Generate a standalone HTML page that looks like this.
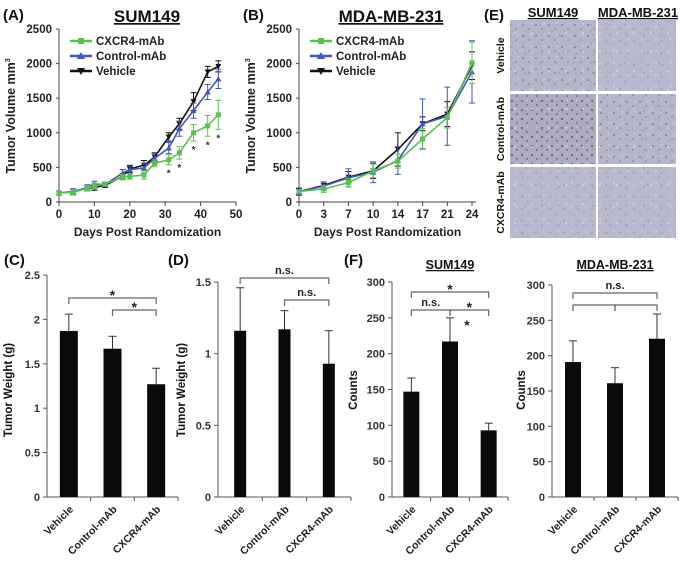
<!DOCTYPE html>
<html><head><meta charset="utf-8"><style>
body{margin:0;background:#fff}
svg{display:block;font-family:"Liberation Sans",Arial,sans-serif}
</style></head><body>
<svg id="fig" width="680" height="562" viewBox="0 0 680 562" xmlns="http://www.w3.org/2000/svg">
<defs>
<pattern id="tissue1" width="13" height="11" patternUnits="userSpaceOnUse">
<rect width="13" height="11" fill="#b4b6cc"/>
<circle cx="3" cy="3" r="0.9" fill="#8a6a62"/><circle cx="9" cy="7" r="0.8" fill="#957064"/>
<circle cx="6" cy="9" r="0.8" fill="#a0a4c6"/><circle cx="11" cy="2" r="0.9" fill="#cfd0dc"/>
</pattern>
<pattern id="tissue2" width="14" height="12" patternUnits="userSpaceOnUse">
<rect width="14" height="12" fill="#b8b9cf"/>
<circle cx="4" cy="5" r="0.7" fill="#a0807a"/><circle cx="10" cy="9" r="0.9" fill="#a4a7c8"/>
<circle cx="12" cy="3" r="0.9" fill="#d2d3de"/>
</pattern>
<pattern id="tissue3" width="10" height="9" patternUnits="userSpaceOnUse">
<rect width="10" height="9" fill="#acabc4"/>
<circle cx="2" cy="2" r="1" fill="#7a4f44"/><circle cx="7" cy="6" r="0.9" fill="#85584a"/>
<circle cx="7" cy="1" r="0.8" fill="#c8c8d8"/>
</pattern>
<pattern id="noise" width="17" height="19" patternUnits="userSpaceOnUse">
<rect width="17" height="19" fill="none"/>
<circle cx="5" cy="14" r="1.1" fill="#d6d6e2" opacity="0.7"/><circle cx="13" cy="6" r="1" fill="#9598bd" opacity="0.6"/>
<circle cx="15" cy="16" r="0.8" fill="#8b6660" opacity="0.5"/>
</pattern>
</defs>
</svg>
<script>
// ---------- Panel A data ----------
const daysA = [0,4,8,10,13,18,20,24,27,31,34,38,42,45];
const vehA = [130,150,200,210,240,370,480,530,650,940,1130,1450,1880,1960];
const vehAerr = [30,40,40,40,30,40,50,70,60,60,80,130,80,80];
const ctlA = [130,150,210,260,250,420,470,490,630,780,1060,1320,1590,1780];
const ctlAerr = [30,40,40,40,30,50,50,70,70,80,110,110,110,140];
const cxA = [130,140,200,230,260,360,370,390,560,610,710,1000,1100,1260];
const cxAerr = [30,40,40,40,30,40,40,60,50,70,90,120,150,210];
const starDaysA = [31,34,38,42,45];
const yTicksA = [0,500,1000,1500,2000,2500];
const xTicksA = [0,10,20,30,40,50];
// ---------- Panel B data ----------
const daysB = ["0","3","7","10","14","17","21","24"];
const vehB = [150,240,360,450,760,1130,1270,1970];
const vehBerr = [50,50,80,110,240,100,180,200];
const ctlB = [150,230,350,430,600,1130,1240,1880];
const ctlBerr = [40,60,130,150,200,360,420,450];
const cxB = [150,190,280,450,590,910,1220,2010];
const cxBerr = [30,50,60,100,100,150,150,300];
// ---------- Bar panels ----------
const groups = ["Vehicle","Control-mAb","CXCR4-mAb"];
const weightC = [1.87,1.67,1.27];
const weightCerr = [0.19,0.14,0.18];
const yTicksC = ["0","0.5","1","1.5","2","2.5"];
const weightD = [1.16,1.17,0.93];
const weightDerr = [0.30,0.13,0.23];
const yTicksD = ["0","0.5","1","1.5"];
const countsF1 = [147,217,93];
const countsF1err = [19,33,10];
const countsF2 = [191,161,224];
const countsF2err = [30,22,35];
const yTicksF = [0,50,100,150,200,250,300];

const svg = document.getElementById('fig');
const NS = 'http://www.w3.org/2000/svg';
function el(tag, attrs, parent, text){
  const e = document.createElementNS(NS, tag);
  for (const k in attrs) e.setAttribute(k, attrs[k]);
  if (text !== undefined) e.textContent = text;
  (parent||svg).appendChild(e);
  return e;
}
function grp(name){
  const g = el('g', {});
  
  
  return g;
}
function txt(g, x, y, s, size, opts){
  opts = opts||{};
  const t = el('text', {x:x, y:y, 'font-size':size, 'font-weight':opts.w||'bold', fill:opts.fill||'#222', 'text-anchor':opts.anchor||'middle'}, g, s);
  if (opts.rot !== undefined) t.setAttribute('transform', `rotate(${opts.rot} ${x} ${y})`);
  if (opts.ul) t.setAttribute('text-decoration','underline');
  return t;
}

function linePanel(cfg){
  const g = grp(cfg.name);
  const x0 = cfg.x0, y0 = 202, yTop = 29;
  const ys = v => y0 - (v/2500)*(y0-yTop);
  el('line',{x1:x0,y1:yTop,x2:x0,y2:y0,stroke:'#444','stroke-width':1},g);
  el('line',{x1:x0,y1:y0,x2:cfg.xEnd,y2:y0,stroke:'#444','stroke-width':1},g);
  yTicksA.forEach(v=>{
    el('line',{x1:x0-3,y1:ys(v),x2:x0,y2:ys(v),stroke:'#444'},g);
    const t = txt(g, x0-7, ys(v)+4, String(v), 11.5, {anchor:'end'});
    
    
  });
  cfg.xTicks.forEach((lab,i)=>{
    const x = cfg.xt(i);
    el('line',{x1:x,y1:y0,x2:x,y2:y0+4,stroke:'#444'},g);
    const t = txt(g, x, y0+16, String(lab), 11.5);
    
    
  });
  const xl = txt(g, (x0+cfg.xEnd)/2, 236, 'Days Post Randomization', 12);
  
  
  const yl = el('text',{x:cfg.x0-44,y:116,'font-size':12.5,'font-weight':'bold',fill:'#222','text-anchor':'middle',transform:`rotate(-90 ${cfg.x0-44} 116)`},g);
  yl.textContent = 'Tumor Volume mm';
  el('tspan',{'font-size':7,dy:-5},yl,'3');
  
  
  const ti = txt(g, cfg.titleX, 22, cfg.title, 17, {ul:true, fill:'#111'});
  
  
  const lb = txt(g, cfg.labX, 20, cfg.label, 15, {anchor:'start', fill:'#111'});
  
  
  cfg.series.forEach(s=>{
    const sg = el('g',{},g);
    
    
    const pts = s.vals.map((v,i)=>[cfg.xs(i), ys(v)]);
    el('polyline',{points:pts.map(p=>p.join(',')).join(' '),fill:'none',stroke:s.color,'stroke-width':1.6},sg);
    s.vals.forEach((v,i)=>{
      const x = cfg.xs(i), e = s.err[i];
      el('line',{x1:x,y1:ys(v+e),x2:x,y2:ys(v-e),stroke:s.color,'stroke-width':1},sg);
      el('line',{x1:x-3,y1:ys(v+e),x2:x+3,y2:ys(v+e),stroke:s.color,'stroke-width':1},sg);
      el('line',{x1:x-3,y1:ys(v-e),x2:x+3,y2:ys(v-e),stroke:s.color,'stroke-width':1},sg);
      const p = pts[i];
      if (s.marker==='sq') el('rect',{x:p[0]-2.5,y:p[1]-2.5,width:5,height:5,fill:s.color},sg);
      else if (s.marker==='up') el('polygon',{points:`${p[0]},${p[1]-3} ${p[0]-3},${p[1]+2.5} ${p[0]+3},${p[1]+2.5}`,fill:s.color},sg);
      else el('polygon',{points:`${p[0]},${p[1]+3} ${p[0]-3},${p[1]-2.5} ${p[0]+3},${p[1]-2.5}`,fill:s.color},sg);
    });
  });
  const lg = el('g',{},g);
  
  
  cfg.series.slice().reverse().forEach((s,i)=>{
    const y = 41 + i*15, lx = x0+11;
    const eg = el('g',{},lg);
    
    
    el('line',{x1:lx,y1:y,x2:lx+22,y2:y,stroke:s.color,'stroke-width':2.5},eg);
    if (s.marker==='sq') el('rect',{x:lx+8,y:y-3,width:6,height:6,fill:s.color},eg);
    else if (s.marker==='up') el('polygon',{points:`${lx+11},${y-4} ${lx+7},${y+3} ${lx+15},${y+3}`,fill:s.color},eg);
    else el('polygon',{points:`${lx+11},${y+4} ${lx+7},${y-3} ${lx+15},${y-3}`,fill:s.color},eg);
    txt(eg, lx+26, y+4, s.label, 11.5, {anchor:'start'});
  });
  return {g, ys};
}

const green='#5cc050', blue='#4455bb', black='#111';
const xsA = d => 59 + d*(177/50);
const pA = linePanel({name:'panel-a-line-chart', x0:59, xEnd:236, title:'SUM149', titleX:147, label:'(A)', labX:3,
  xTicks:xTicksA, xt:i=>xsA(xTicksA[i]), xs:i=>xsA(daysA[i]),
  series:[
    {name:'series-vehicle', label:'Vehicle', vals:vehA, err:vehAerr, color:black, marker:'down'},
    {name:'series-control-mab', label:'Control-mAb', vals:ctlA, err:ctlAerr, color:blue, marker:'up'},
    {name:'series-cxcr4-mab', label:'CXCR4-mAb', vals:cxA, err:cxAerr, color:green, marker:'sq'}
  ]});
starDaysA.forEach(d=>{
  const i = daysA.indexOf(d);
  const t = txt(pA.g, xsA(d), pA.ys(cxA[i]-cxAerr[i])+12, '*', 10, {fill:'#333'});
  
  
});
const stepB = 173/(daysB.length-1);
linePanel({name:'panel-b-line-chart', x0:299, xEnd:476, title:'MDA-MB-231', titleX:391, label:'(B)', labX:243,
  xTicks:daysB, xt:i=>299+i*stepB, xs:i=>299+i*stepB,
  series:[
    {name:'series-vehicle', label:'Vehicle', vals:vehB, err:vehBerr, color:black, marker:'down'},
    {name:'series-control-mab', label:'Control-mAb', vals:ctlB, err:ctlBerr, color:blue, marker:'up'},
    {name:'series-cxcr4-mab', label:'CXCR4-mAb', vals:cxB, err:cxBerr, color:green, marker:'sq'}
  ]});

(function(){
  const g = grp('panel-e-ihc-images');
  txt(g, 484, 20, '(E)', 15, {anchor:'start', fill:'#111'});
  txt(g, 553, 17, 'SUM149', 13, {ul:true,fill:'#111'});
  txt(g, 638, 17, 'MDA-MB-231', 13, {ul:true,fill:'#111'});
  const rows = [['Vehicle',20,91],['Control-mAb',94,164],['CXCR4-mAb',167,238]];
  const fills = [['tissue1','tissue2'],['tissue3','tissue1'],['tissue2','tissue2']];
  rows.forEach((r,ri)=>{
    txt(g, 504, (r[1]+r[2])/2, r[0], 10.5, {rot:-90, fill:'#111'});
    [[510,596],[598,676]].forEach((c,ci)=>{
      const im = el('rect',{x:c[0],y:r[1],width:c[1]-c[0],height:r[2]-r[1],fill:`url(#${fills[ri][ci]})`},g);
      
      
      el('rect',{x:c[0],y:r[1],width:c[1]-c[0],height:r[2]-r[1],fill:'url(#noise)'},g);
    });
  });
})();

function barPanel(cfg){
  const g = grp(cfg.name);
  const y0 = 497;
  const ys = v => y0 - (v/cfg.max)*(y0-cfg.yTop);
  el('line',{x1:cfg.x0,y1:cfg.yTop,x2:cfg.x0,y2:y0,stroke:'#555'},g);
  el('line',{x1:cfg.x0,y1:y0,x2:cfg.xEnd,y2:y0,stroke:'#555'},g);
  cfg.ticks.forEach(t=>{
    const v = parseFloat(t);
    el('line',{x1:cfg.x0-4,y1:ys(v),x2:cfg.x0,y2:ys(v),stroke:'#555'},g);
    const tl = txt(g, cfg.x0-7, ys(v)+4, String(t), 11, {anchor:'end', fill:'#333'});
    
    
  });
  const band = (cfg.xEnd-cfg.x0)/3;
  for (let i=1;i<3;i++) el('line',{x1:cfg.x0+band*i,y1:y0,x2:cfg.x0+band*i,y2:y0+4,stroke:'#555'},g);
  el('line',{x1:cfg.xEnd,y1:y0,x2:cfg.xEnd,y2:y0+4,stroke:'#555'},g);
  const cx = i => cfg.x0 + band*(i+0.5);
  cfg.vals.forEach((v,i)=>{
    const b = el('rect',{x:cx(i)-cfg.bw/2,y:ys(v),width:cfg.bw,height:y0-ys(v),fill:'#0a0a0a'},g);
    
    
    const e = cfg.err[i];
    el('line',{x1:cx(i),y1:ys(v),x2:cx(i),y2:ys(v+e),stroke:'#333'},g);
    el('line',{x1:cx(i)-4,y1:ys(v+e),x2:cx(i)+4,y2:ys(v+e),stroke:'#333'},g);
    const lab = txt(g, cx(i)+5, y0+13, groups[i], 10.5, {anchor:'end', rot:-45, fill:'#222'});
    
    
  });
  const yl = txt(g, cfg.yLabX, 390, cfg.yLabel, 11.5, {rot:-90, fill:'#111'});
  
  
  (cfg.brackets||[]).forEach(b=>{
    const bg = el('g',{},g);
    
    
    const xa = cx(b[0]), xb = cx(b[1]);
    el('path',{d:`M${xa},${b[2]+6} L${xa},${b[2]} L${xb},${b[2]} L${xb},${b[2]+6}`,fill:'none',stroke:'#666','stroke-width':1.2},bg);
    if (b[3]) txt(bg, (xa+xb)/2+(b[4]||0), b[2]-(b[3]==='*'?-2:4), b[3], b[3]==='*'?14:11, {fill:'#222'});
  });
  if (cfg.title) txt(g, (cfg.x0+cfg.xEnd)/2, 269, cfg.title, 12.5, {ul:true, fill:'#111'});
  if (cfg.label) txt(g, cfg.labX, 265, cfg.label, 15, {anchor:'start', fill:'#111'});
  return {g, cx, ys};
}
barPanel({name:'panel-c-bar-chart', x0:47, xEnd:178, yTop:275, max:2.5, ticks:yTicksC, vals:weightC, err:weightCerr, bw:18,
  yLabX:12, yLabel:'Tumor Weight (g)', label:'(C)', labX:4,
  brackets:[[0,2,298,'*'],[1,2,310,'*']]});
barPanel({name:'panel-d-bar-chart', x0:218, xEnd:351, yTop:282, max:1.5, ticks:yTicksD, vals:weightD, err:weightDerr, bw:12,
  yLabX:185, yLabel:'Tumor Weight (g)', label:'(D)', labX:168,
  brackets:[[0,2,278,'n.s.'],[1,2,300,'n.s.']]});
const f1 = barPanel({name:'panel-f-sum149-bar-chart', x0:392, xEnd:508, yTop:282, max:300, ticks:yTicksF, vals:countsF1, err:countsF1err, bw:16,
  yLabX:357, yLabel:'Counts', title:'SUM149', label:'(F)', labX:344,
  brackets:[[0,2,292,'*'],[0,1,310,'n.s.'],[1,2,310,'*']]});
txt(f1.g, 467, 330, '*', 14, {fill:'#222'});
barPanel({name:'panel-f-mda-mb-231-bar-chart', x0:552, xEnd:678, yTop:285, max:300, ticks:yTicksF, vals:countsF2, err:countsF2err, bw:16,
  yLabX:525, yLabel:'Counts', title:'MDA-MB-231',
  brackets:[[0,2,293,'n.s.'],[0,1,305,''],[1,2,305,'']]});
</script>
</body></html>
